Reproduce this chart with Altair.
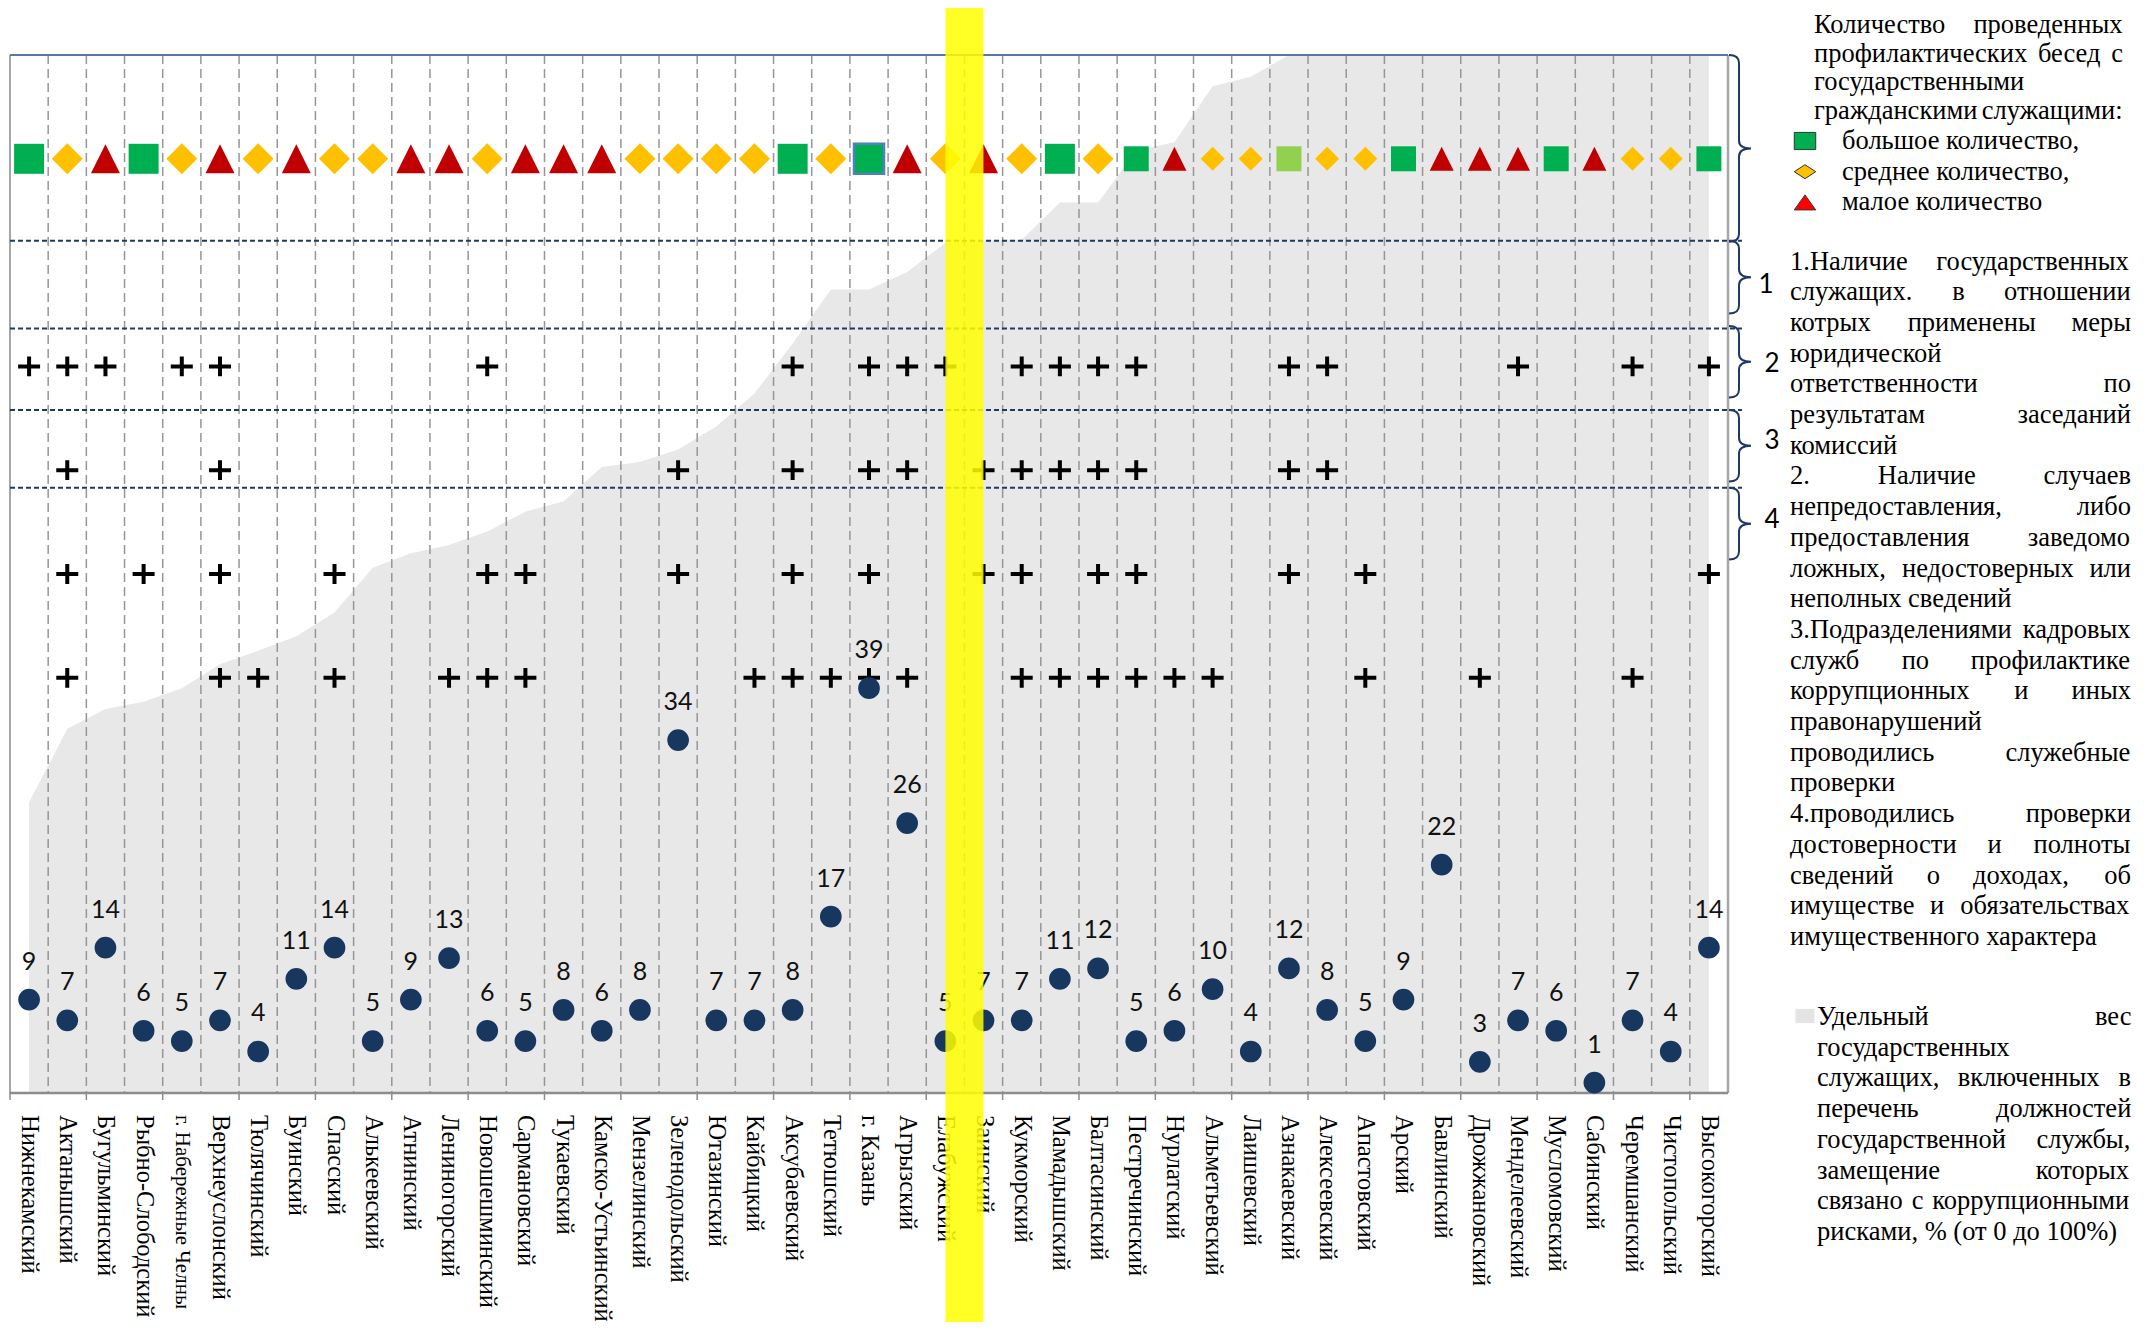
import glob
import struct
import altair as alt
import pandas as pd

# ---------------------------------------------------------------- data
districts = [
    "Нижнекамский", "Актанышский", "Бугульминский", "Рыбно-Слободский",
    "г. Набережные Челны", "Верхнеуслонский", "Тюлячинский", "Буинский",
    "Спасский", "Алькеевский", "Атнинский", "Лениногорский", "Новошешминский",
    "Сармановский", "Тукаевский", "Камско-Устьинский", "Мензелинский",
    "Зеленодольский", "Ютазинский", "Кайбицкий", "Аксубаевский", "Тетюшский",
    "г. Казань", "Агрызский", "Елабужский", "Заинский", "Кукморский",
    "Мамадышский", "Балтасинский", "Пестречинский", "Нурлатский",
    "Альметьевский", "Лаишевский", "Азнакаевский", "Алексеевский",
    "Апастовский", "Арский", "Бавлинский", "Дрожжановский", "Менделеевский",
    "Мусломовский", "Сабинский", "Черемшанский", "Чистопольский", "Высокогорский",
]
# share of civil servants in the corruption-risk list, %
share = [28.0, 35.1, 37.0, 37.7, 39.0, 41.3, 42.6, 44.0, 46.3, 50.6, 52.0, 52.8,
         54.1, 56.0, 57.0, 60.3, 60.8, 62.0, 64.2, 67.4, 72.2, 77.4, 77.4, 79.1,
         81.9, 82.1, 82.2, 85.8, 85.8, 90.8, 91.6, 97.0, 97.9, 100, 100, 100, 100,
         100, 100, 100, 100, 100, 100, 100, 100]
# dot values
values = [9, 7, 14, 6, 5, 7, 4, 11, 14, 5, 9, 13, 6, 5, 8, 6, 8, 34, 7, 7, 8, 17,
          39, 26, 5, 7, 7, 11, 12, 5, 6, 10, 4, 12, 8, 5, 9, 22, 3, 7, 6, 1, 7, 4, 14]
# number of preventive talks: B = большое, S = среднее, M = малое, B2 = большое (светлое)
rating = ["B", "S", "M", "B", "S", "M", "S", "M", "S", "S", "M", "M", "S", "M", "M",
          "M", "S", "S", "S", "S", "B", "S", "B", "M", "S", "M", "S", "B", "S", "B",
          "M", "S", "S", "B2", "S", "S", "B", "M", "M", "M", "B", "M", "S", "S", "B"]
crit1 = [1, 1, 1, 0, 1, 1, 0, 0, 0, 0, 0, 0, 1, 0, 0, 0, 0, 0, 0, 0, 1, 0, 1, 1, 1,
         0, 1, 1, 1, 1, 0, 0, 0, 1, 1, 0, 0, 0, 0, 1, 0, 0, 1, 0, 1]
crit2 = [0, 1, 0, 0, 0, 1, 0, 0, 0, 0, 0, 0, 0, 0, 0, 0, 0, 1, 0, 0, 1, 0, 1, 1, 0,
         1, 1, 1, 1, 1, 0, 0, 0, 1, 1, 0, 0, 0, 0, 0, 0, 0, 0, 0, 0]
crit3 = [0, 1, 0, 1, 0, 1, 0, 0, 1, 0, 0, 0, 1, 1, 0, 0, 0, 1, 0, 0, 1, 0, 1, 0, 0,
         1, 1, 0, 1, 1, 0, 0, 0, 1, 0, 1, 0, 0, 0, 0, 0, 0, 0, 0, 1]
crit4 = [0, 1, 0, 0, 0, 1, 1, 0, 1, 0, 0, 1, 1, 1, 0, 0, 0, 0, 0, 1, 1, 1, 1, 1, 0,
         0, 1, 1, 1, 1, 1, 1, 0, 0, 0, 1, 0, 0, 1, 0, 0, 0, 1, 0, 0]

legend_title = ["Количество проведенных", "профилактических бесед с",
                "государственными", "гражданскими служащими:"]
legend_title_just = [True, True, False, True]
legend_items = ["большое количество,", "среднее количество,", "малое количество"]
notes = [
    ("1.Наличие государственных", True), ("служащих. в отношении", True),
    ("котрых применены меры", True), ("юридической", False),
    ("ответственности по", True), ("результатам заседаний", True),
    ("комиссий", False), ("2. Наличие случаев", True),
    ("непредоставления, либо", True), ("предоставления заведомо", True),
    ("ложных, недостоверных или", True), ("неполных сведений", False),
    ("3.Подразделениями кадровых", True), ("служб по профилактике", True),
    ("коррупционных и иных", True), ("правонарушений", False),
    ("проводились служебные", True), ("проверки", False),
    ("4.проводились проверки", True), ("достоверности и полноты", True),
    ("сведений о доходах, об", True), ("имуществе и обязательствах", True),
    ("имущественного характера", False),
]
area_note = [
    ("Удельный вес", True), ("государственных", False),
    ("служащих, включенных в", True), ("перечень должностей", True),
    ("государственной службы,", True), ("замещение которых", True),
    ("связано с коррупционными", True), ("рисками, % (от 0 до 100%)", False),
]
row_numbers = ["1", "2", "3", "4"]

# ---------------------------------------------------------------- layout
W, H = 1718, 1038
PAD = {"left": 2, "top": 47, "right": 411, "bottom": 229}
OX, OY = 8 + PAD["left"], 8 + PAD["top"]          # page position of plot origin
def px(x): return x - OX
def py(y): return y - OY
def uy(u): return H * (1 - u / 100.0)            # chart units -> plot px

SERIF = "Liberation Serif"
NUM_FONT = "Lato"
TXT = 26.5
LH = 30.7


# text measurement (for justified lines)
def _advances(chars):
    paths = []
    for pat in ("/usr/share/fonts/**/LiberationSerif-Regular.ttf",
                "/usr/local/share/fonts/**/LiberationSerif-Regular.ttf",
                "/usr/share/fonts/**/Liberation*Serif*Regular*.ttf"):
        paths += glob.glob(pat, recursive=True)
    for path in paths:
        try:
            with open(path, "rb") as fh:
                data = fh.read()
            n = struct.unpack(">H", data[4:6])[0]
            tab = {}
            for i in range(n):
                tag, _, off, _ln = struct.unpack(">4sIII", data[12 + 16 * i:28 + 16 * i])
                tab[tag] = off
            upem = struct.unpack(">H", data[tab[b"head"] + 18:tab[b"head"] + 20])[0]
            nhm = struct.unpack(">H", data[tab[b"hhea"] + 34:tab[b"hhea"] + 36])[0]
            hm = tab[b"hmtx"]
            c0 = tab[b"cmap"]
            nsub = struct.unpack(">H", data[c0 + 2:c0 + 4])[0]
            sub = None
            for i in range(nsub):
                pid, eid, so = struct.unpack(">HHI", data[c0 + 4 + 8 * i:c0 + 12 + 8 * i])
                if struct.unpack(">H", data[c0 + so:c0 + so + 2])[0] == 4 and pid in (0, 3):
                    sub = c0 + so
                    break
            if sub is None:
                continue
            seg2 = struct.unpack(">H", data[sub + 6:sub + 8])[0]
            seg = seg2 // 2
            ends = struct.unpack(">%dH" % seg, data[sub + 14:sub + 14 + seg2])
            starts = struct.unpack(">%dH" % seg, data[sub + 16 + seg2:sub + 16 + 2 * seg2])
            deltas = struct.unpack(">%dh" % seg, data[sub + 16 + 2 * seg2:sub + 16 + 3 * seg2])
            rbase = sub + 16 + 3 * seg2
            roffs = struct.unpack(">%dH" % seg, data[rbase:rbase + seg2])
            out = {}
            for ch in chars:
                c = ord(ch)
                g = 0
                for s in range(seg):
                    if starts[s] <= c <= ends[s]:
                        if roffs[s] == 0:
                            g = (c + deltas[s]) & 0xFFFF
                        else:
                            a = rbase + 2 * s + roffs[s] + 2 * (c - starts[s])
                            g = struct.unpack(">H", data[a:a + 2])[0]
                            if g:
                                g = (g + deltas[s]) & 0xFFFF
                        break
                gi = min(g, nhm - 1)
                out[ch] = struct.unpack(">H", data[hm + 4 * gi:hm + 4 * gi + 2])[0] / upem
            return out
        except Exception:
            continue
    return None


_all_text = "".join(legend_title) + "".join(t for t, _ in notes) + "".join(t for t, _ in area_note)
_adv = _advances(set(_all_text)) or {}


def tw(s, size):
    tot = 0.0
    for ch in s:
        if ch in _adv:
            tot += _adv[ch]
        elif ch == " ":
            tot += 0.25
        elif ch in ".,:":
            tot += 0.25
        elif ch.isupper():
            tot += 0.68
        elif ch in "шщжымю":
            tot += 0.72
        else:
            tot += 0.5
    return tot * size


def place(text, left, right, y, just):
    words = text.split()
    if not just or len(words) < 2:
        return [{"t": text, "x": left, "y": y}]
    widths = [tw(w, TXT) for w in words]
    gap = (right - left - sum(widths)) / (len(words) - 1)
    rows, x = [], left
    for w, wd in zip(words, widths):
        rows.append({"t": w, "x": x, "y": y})
        x += wd + gap
    return rows


# ---------------------------------------------------------------- main chart
xscale = alt.Scale(type="band", domain=districts, paddingInner=0, paddingOuter=0)
yscale = alt.Scale(domain=[0, 100], nice=False)


def X(bp=0.5):
    return alt.X("district:N", scale=xscale, sort=districts, bandPosition=bp, axis=None)


df = pd.DataFrame({"district": districts, "share": share, "value": values,
                   "rating": rating})
df["idx"] = range(len(df))
big_size = {"B": 900, "B2": 900, "S": 961, "M": 841}
small_size = {"B": 625, "B2": 625, "S": 576, "M": 576}
df["sz"] = [big_size[r] if i < 29 else small_size[r] for i, r in zip(df.idx, df.rating)]
df["row"] = 90

one = pd.DataFrame({"k": [0]})

area = alt.Chart(df).mark_area(color="#E8E8E8", opacity=1).encode(
    x=X(0.5), y=alt.Y("share:Q", scale=yscale, axis=None))

grid = alt.Chart(df[df.idx > 0]).mark_rule(
    color="#969696", strokeWidth=1.5, strokeDash=[9, 5]).encode(
    x=X(0), y=alt.value(0), y2=alt.value(H))

ticks = alt.Chart(df[df.idx % 2 == 0]).mark_rule(color="#8C8C8C", strokeWidth=1.5).encode(
    x=X(0), y=alt.value(H), y2=alt.value(H + 7))

LONG = "г. Набережные Челны"
x_labels = alt.Chart(df[df.district != LONG]).mark_text(
    angle=90, align="left", baseline="middle", font=SERIF, fontSize=24.5,
    color="black").encode(x=X(0.5), y=alt.value(H + 22), text="district:N")
x_label_long = alt.Chart(df[df.district == LONG]).mark_text(
    angle=90, align="left", baseline="middle", font=SERIF, fontSize=21,
    color="black").encode(x=X(0.5), y=alt.value(H + 22), text="district:N")

frame_l = alt.Chart(one).mark_rule(color="#A6A6A6", strokeWidth=2).encode(
    x=alt.value(0), y=alt.value(0), y2=alt.value(H))
frame_r = alt.Chart(one).mark_rule(color="#A6A6A6", strokeWidth=2.5).encode(
    x=alt.value(W), y=alt.value(0), y2=alt.value(H))
frame_t = alt.Chart(one).mark_rule(color="#5878A3", strokeWidth=2).encode(
    x=alt.value(0), x2=alt.value(W), y=alt.value(0))
frame_b = alt.Chart(one).mark_rule(color="#8C8C8C", strokeWidth=2.5).encode(
    x=alt.value(0), x2=alt.value(W), y=alt.value(H))

dash_df = pd.DataFrame({"lvl": [82.1, 73.65, 65.8, 58.3]})
dashes = alt.Chart(dash_df).mark_rule(color="#1F3864", strokeWidth=2, strokeDash=[5, 3]).encode(
    y=alt.Y("lvl:Q", scale=yscale, axis=None), x=alt.value(0), x2=alt.value(W + 14))

SQ = "M-1,-1H1V1H-1Z"
DI = "M0,-1L1,0L0,1L-1,0Z"
TR = "M0,-1L1,1L-1,1Z"
markers = alt.Chart(df).mark_point(filled=True, opacity=1, stroke="#4F81BD").encode(
    x=X(0.5),
    y=alt.Y("row:Q", scale=yscale, axis=None),
    shape=alt.Shape("rating:N", scale=alt.Scale(domain=["B", "B2", "S", "M"],
                                                range=[SQ, SQ, DI, TR]), legend=None),
    color=alt.Color("rating:N", scale=alt.Scale(domain=["B", "B2", "S", "M"],
                                                range=["#00B050", "#92D050", "#FFC000", "#C00000"]),
                    legend=None),
    size=alt.Size("sz:Q", scale=None),
    strokeWidth=alt.condition(alt.datum.district == "г. Казань", alt.value(2.5), alt.value(0)),
)

plus_rows = []
for lvl, flags in zip([70, 60, 50, 40], [crit1, crit2, crit3, crit4]):
    for d, f in zip(districts, flags):
        if f:
            plus_rows.append({"district": d, "lvl": lvl})
plus_df = pd.DataFrame(plus_rows)
pluses = alt.Chart(plus_df).mark_point(
    shape="M-1,0H1M0,-0.9V0.9", filled=False, color="black", strokeWidth=4,
    size=484, opacity=1).encode(x=X(0.5), y=alt.Y("lvl:Q", scale=yscale, axis=None))

dots = alt.Chart(df).mark_circle(color="#17375E", size=470, opacity=1).encode(
    x=X(0.5), y=alt.Y("value:Q", scale=yscale, axis=None))
dot_labels = alt.Chart(df).mark_text(
    dy=-38, font=NUM_FONT, fontSize=25, color="#111111", baseline="middle").encode(
    x=X(0.5), y=alt.Y("value:Q", scale=yscale, axis=None), text="value:Q")

hl = alt.Chart(pd.DataFrame({"district": ["Заинский"]})).mark_rule(
    color="#FFFF00", strokeWidth=38, opacity=0.85).encode(
    x=X(0), y=alt.value(-PAD["top"]), y2=alt.value(H + PAD["bottom"]))

main = alt.layer(area, grid, ticks, frame_l, frame_r, frame_t, frame_b, dashes,
                 markers, pluses, dots, dot_labels, x_labels, x_label_long, hl)

# ---------------------------------------------------------------- right-side legend
rows = []
title_y = [25, 53.5, 82, 111]
for t, j, yy in zip(legend_title, legend_title_just, title_y):
    rows += place(t, px(1814), px(2123), py(yy), j)
for i, t in enumerate(legend_items):
    rows.append({"t": t, "x": px(1842), "y": py(141 + LH * i)})
for i, (t, j) in enumerate(notes):
    rows += place(t, px(1790), px(2131), py(261.5 + LH * i), j)
for i, (t, j) in enumerate(area_note):
    rows += place(t, px(1817), px(2131), py(1017 + LH * i), j)
text_df = pd.DataFrame(rows)

legend_text = alt.Chart(text_df).mark_text(
    align="left", baseline="middle", font=SERIF, fontSize=TXT, color="black").encode(
    x=alt.X("x:Q", scale=None, axis=None), y=alt.Y("y:Q", scale=None, axis=None), text="t:N")

sym_df = pd.DataFrame({
    "p": ["M-1,-0.8H1V0.8H-1Z", "M0,-0.65L1,0L0,0.65L-1,0Z", "M0,-0.7L1,0.7L-1,0.7Z"],
    "c": ["#00B050", "#FFC000", "#FF0000"],
    "x": [px(1805)] * 3,
    "y": [py(141 + LH * i) for i in range(3)],
})
legend_syms = alt.Chart(sym_df).mark_point(
    filled=True, opacity=1, stroke="#333333", strokeWidth=1, size=460).encode(
    x=alt.X("x:Q", scale=None, axis=None), y=alt.Y("y:Q", scale=None, axis=None),
    shape=alt.Shape("p:N", scale=None), color=alt.Color("c:N", scale=None))

area_sym = alt.Chart(one).mark_point(
    filled=True, opacity=1, shape="M-1,-0.75H1V0.75H-1Z", size=361, color="#E4E4E4").encode(
    x=alt.value(px(1805)), y=alt.value(py(1016)))

# braces (spans in chart units)
brace_spans = [(100.0, 82.0), (82.1, 75.1), (73.9, 67.0), (65.8, 58.9), (58.3, 51.4)]
brace_rows = []
for top, bot in brace_spans:
    y0, y1 = uy(top), uy(bot)
    r = (y1 - y0) / 2.0
    x0, x1, x2, c = -11.0, -1.0, 11.0, 8.0
    f = lambda v: "%.4f" % (v / r)
    path = ("M{a},{m1} Q{b},{m1} {b},{p} L{b},{q} Q{b},0 {t},0 Q{b},0 {b},{nq} "
            "L{b},{np} Q{b},1 {a},1").format(
        a=f(x0), b=f(x1), t=f(x2), m1="-1", p=f(-r + c), q=f(-c), nq=f(c), np=f(r - c))
    brace_rows.append({"p": path, "s": (2 * r) ** 2, "x": px(1740), "y": (y0 + y1) / 2})
brace_df = pd.DataFrame(brace_rows)
braces = alt.Chart(brace_df).mark_point(
    filled=False, opacity=1, color="#1F3864", strokeWidth=2).encode(
    x=alt.X("x:Q", scale=None, axis=None), y=alt.Y("y:Q", scale=None, axis=None),
    shape=alt.Shape("p:N", scale=None), size=alt.Size("s:Q", scale=None))

num_df = pd.DataFrame({"t": row_numbers,
                       "x": [px(1766), px(1772), px(1772), px(1772)],
                       "y": [py(285), py(364), py(441), py(520)]})
nums = alt.Chart(num_df).mark_text(
    font=NUM_FONT, fontSize=26, color="black", align="center", baseline="middle").encode(
    x=alt.X("x:Q", scale=None, axis=None), y=alt.Y("y:Q", scale=None, axis=None), text="t:N")

legend = alt.layer(legend_text, legend_syms, area_sym, braces, nums)

chart = alt.layer(main, legend).resolve_scale(
    x="independent", y="independent", shape="independent", color="independent",
    size="independent", strokeWidth="independent",
).properties(
    width=W, height=H, padding=PAD, background="white",
    autosize=alt.AutoSizeParams(type="none"),
).configure_view(stroke=None)

chart.save("out.html", embed_options={"renderer": "svg", "actions": False})
